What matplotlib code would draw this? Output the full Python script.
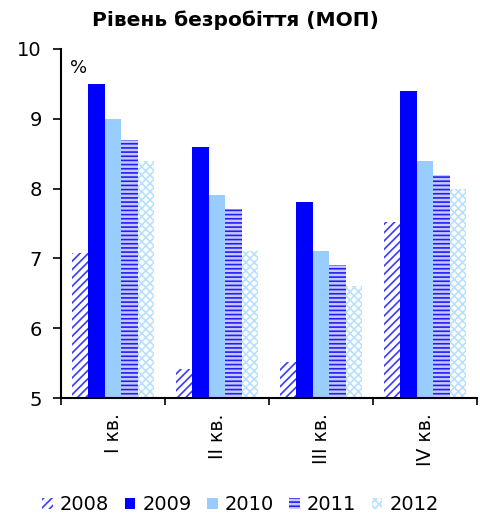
import numpy as np
import matplotlib.pyplot as plt

quarters = ["I кв.", "II кв.", "III кв.", "IV кв."]
years = ["2008", "2009", "2010", "2011", "2012"]
v2008 = [7.07, 5.41, 5.52, 7.52]
v2009 = [9.5, 8.6, 7.8, 9.4]
v2010 = [9.0, 7.9, 7.1, 8.4]
v2011 = [8.7, 7.7, 6.9, 8.2]
v2012 = [8.4, 7.1, 6.6, 8.0]
series = [v2008, v2009, v2010, v2011, v2012]

# face, hatch colour, hatch pattern per year
styles = [
    ("white", "#3a3aff", "////"),
    ("#0000ff", "#0000ff", None),
    ("#99ccff", "#99ccff", None),
    ("#c8c8ff", "#2020ff", "----"),
    ("white", "#b8e0ff", "xxxx"),
]

plt.rcParams['hatch.linewidth'] = 1.2
fig = plt.figure(figsize=(4.81, 5.19), dpi=100)
ax = fig.add_axes([0.127, 0.233, 0.865, 0.673])

x = np.arange(len(quarters))
w = 0.158
handles = []
for i, vals in enumerate(series):
    fc, hc, hatch = styles[i]
    vals = np.array(vals)
    b = ax.bar(x + (i - 2) * w, vals - 5, bottom=5, width=w, color=fc,
               edgecolor=hc, hatch=hatch, linewidth=0, label=years[i])
    handles.append(b)

ax.set_xlim(-0.5, 3.5)
ax.set_ylim(5, 10)
ax.set_yticks(range(5, 11))
ax.tick_params(axis='y', labelsize=14, length=6, width=1.2, pad=8)
ax.set_xticks([-0.5, 0.5, 1.5, 2.5, 3.5])
ax.set_xticklabels([])
ax.tick_params(axis='x', which='major', length=5, width=1.2)
ax.set_xticks(x, minor=True)
ax.set_xticklabels(quarters, minor=True, rotation=90, fontsize=13.5)
ax.tick_params(axis='x', which='minor', length=0, pad=11)
for s in ['top', 'right']:
    ax.spines[s].set_visible(False)
for s in ['left', 'bottom']:
    ax.spines[s].set_linewidth(1.5)

ax.text(0.022, 0.97, "%", transform=ax.transAxes, fontsize=13, va='top')
fig.text(0.49, 0.962, "Рівень безробіття (МОП)", ha='center', va='center',
         fontsize=14.5, fontweight='bold')

fig.legend(handles=handles, loc='center', bbox_to_anchor=(0.5, 0.027),
           ncol=5, frameon=False, fontsize=14, handlelength=0.55,
           handleheight=0.55, handletextpad=0.35, columnspacing=0.8,
           borderpad=0)

fig.savefig("out.png", dpi=100)
